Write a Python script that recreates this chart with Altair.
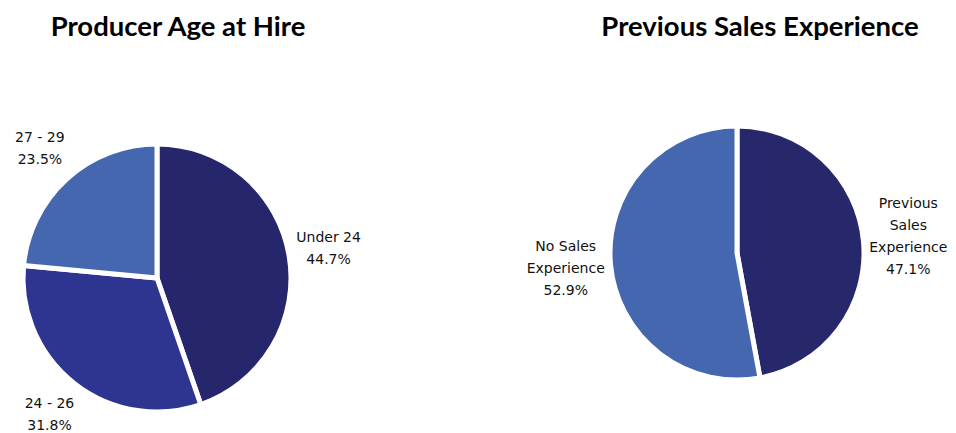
import altair as alt
import pandas as pd

# ---- data ----
age_cats = ["Under 24", "24 - 26", "27 - 29"]
age_vals = [44.7, 31.8, 23.5]
age_colors = ["#26266C", "#2D3590", "#4567AF"]

sales_cats = ["Previous\nSales\nExperience", "No Sales\nExperience"]
sales_vals = [47.1, 52.9]
sales_colors = ["#27276C", "#4567AF"]

LINE_H = 22


def make_df(cats, vals, colors):
    labels = [f"{c}\n{v}%" for c, v in zip(cats, vals)]
    return pd.DataFrame({
        "cat": cats,
        "value": vals,
        "color": colors,
        "ord": list(range(len(cats))),
        "label": labels,
        # shift multi-line labels so the block is centred on its anchor
        "dy": [-(lbl.count("\n")) * LINE_H / 2 for lbl in labels],
    })


def pie(df, title, cx, cy, r, lr, tx):
    base = alt.Chart(df).transform_window(
        end="sum(value)", sort=[alt.SortField("ord")], frame=[None, 0]
    ).transform_calculate(
        start="datum.end - datum.value",
        mid="datum.end - datum.value / 2",
    )
    tscale = alt.Scale(domain=[0, 100])
    arcs = base.mark_arc(stroke="white", strokeWidth=5, radius=r).encode(
        theta=alt.Theta("start:Q", scale=tscale),
        theta2="end:Q",
        color=alt.Color("color:N", scale=None),
        x=alt.value(cx), y=alt.value(cy),
    )
    labels = base.mark_text(
        radius=lr, font="DejaVu Sans", fontSize=14, lineBreak="\n",
        lineHeight=LINE_H, color="#111111", baseline="middle", align="center",
    ).encode(
        theta=alt.Theta("mid:Q", scale=tscale),
        text="label:N",
        x=alt.value(cx), y=alt.value(cy),
        yOffset=alt.YOffset("dy:Q", scale=None),
    )
    ttl = alt.Chart(pd.DataFrame({"t": [title]})).mark_text(
        font="Lato", fontWeight="bold", fontSize=27.5, color="#000000",
        baseline="alphabetic", align="center",
    ).encode(text="t:N", x=alt.value(tx), y=alt.value(27.5))
    return alt.layer(arcs, labels, ttl).properties(width=470, height=417)


left = pie(make_df(age_cats, age_vals, age_colors), "Producer Age at Hire",
           149, 270, 134, 174, 170)
right = pie(make_df(sales_cats, sales_vals, sales_colors), "Previous Sales Experience",
            259, 245, 127, 172, 282)

chart = alt.hconcat(left, right, spacing=0).properties(padding=0).configure_view(
    strokeWidth=0
)

chart.save("out.html", embed_options={"renderer": "svg", "actions": False})
